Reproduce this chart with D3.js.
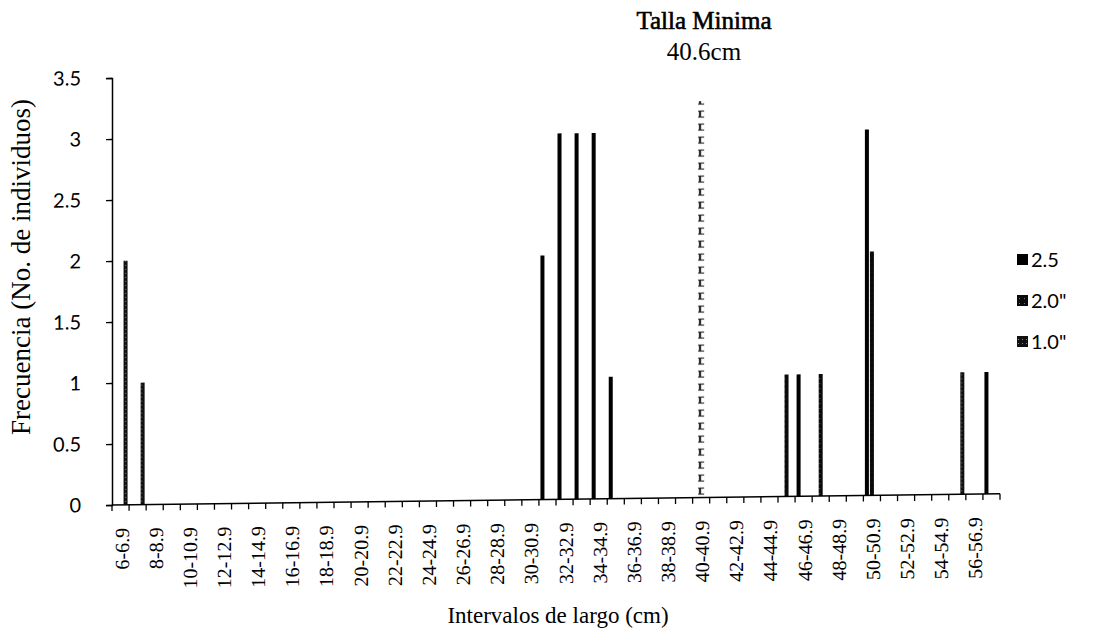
<!DOCTYPE html>
<html>
<head>
<meta charset="utf-8">
<script src="https://cdn.jsdelivr.net/npm/d3@7"></script>
<style>
  body { margin: 0; background: #fff; }
  .serif { font-family: "Liberation Serif", "Times New Roman", serif; }
  .sans { font-family: Lato, "Open Sans", sans-serif; }
</style>
</head>
<body>
<div id="chart"></div>
<script>
// length intervals (cm), one per bar group
const categories = ["6-6.9","7-7.9","8-8.9","9-9.9","10-10.9","11-11.9","12-12.9","13-13.9",
  "14-14.9","15-15.9","16-16.9","17-17.9","18-18.9","19-19.9","20-20.9","21-21.9","22-22.9",
  "23-23.9","24-24.9","25-25.9","26-26.9","27-27.9","28-28.9","29-29.9","30-30.9","31-31.9",
  "32-32.9","33-33.9","34-34.9","35-35.9","36-36.9","37-37.9","38-38.9","39-39.9","40-40.9",
  "41-41.9","42-42.9","43-43.9","44-44.9","45-45.9","46-46.9","47-47.9","48-48.9","49-49.9",
  "50-50.9","51-51.9","52-52.9","53-53.9","54-54.9","55-55.9","56-56.9","57-57.9"];
const tickLabels = ["6-6.9","8-8.9","10-10.9","12-12.9","14-14.9","16-16.9","18-18.9","20-20.9",
  "22-22.9","24-24.9","26-26.9","28-28.9","30-30.9","32-32.9","34-34.9","36-36.9","38-38.9",
  "40-40.9","42-42.9","44-44.9","46-46.9","48-48.9","50-50.9","52-52.9","54-54.9","56-56.9"];

const seriesNames = ["2.5", "2.0\"", "1.0\""];
// frequencies per interval, 6-6.9 ... 57-57.9
const serie25 = [0,0,0,0,0,0,0,0,0,0, 0,0,0,0,0,0,0,0,0,0, 0,0,0,0,0,2,3,3,3,1, 0,0,0,0,0,0,0,0,0,0, 1,0,0,0,3,0,0,0,0,0, 0,1];
const serie20 = [0,0,0,0,0,0,0,0,0,0, 0,0,0,0,0,0,0,0,0,0, 0,0,0,0,0,0,0,0,0,0, 0,0,0,0,0,0,0,0,0,1, 0,1,0,0,2,0,0,0,0,0, 0,0];
const serie10 = [2,1,0,0,0,0,0,0,0,0, 0,0,0,0,0,0,0,0,0,0, 0,0,0,0,0,0,0,0,0,0, 0,0,0,0,0,0,0,0,0,0, 0,0,0,0,0,0,0,0,0,1, 0,0];

// minimum legal size marker
const minCategory = "40-40.9";
const minValue = 3.25;

const yTicks = [0, 0.5, 1, 1.5, 2, 2.5, 3, 3.5];

const width = 1103, height = 636;
const marginLeft = 112, plotW = 888, plotTop = 78, plotBottom = 505;

const svg = d3.select("#chart").append("svg")
  .attr("width", width).attr("height", height)
  .attr("class", "serif");

const defs = svg.append("defs");
let p = defs.append("pattern").attr("id", "pat20").attr("patternUnits", "userSpaceOnUse")
  .attr("width", 5).attr("height", 5);
p.append("rect").attr("width", 5).attr("height", 5).attr("fill", "#0a0a0a");
p.append("rect").attr("x", 2).attr("y", 2).attr("width", 1).attr("height", 1).attr("fill", "#777");
p = defs.append("pattern").attr("id", "pat10").attr("patternUnits", "userSpaceOnUse")
  .attr("width", 4).attr("height", 4);
p.append("rect").attr("width", 4).attr("height", 4).attr("fill", "#111");
p.append("rect").attr("x", 1).attr("y", 1).attr("width", 1).attr("height", 1).attr("fill", "#888");
p = defs.append("pattern").attr("id", "patMin").attr("patternUnits", "userSpaceOnUse")
  .attr("width", 6).attr("height", 13);
p.append("rect").attr("x", 0.5).attr("y", 1.5).attr("width", 5).attr("height", 6)
  .attr("fill", "#fff").attr("stroke", "#222").attr("stroke-width", 1.1);

const fills = { "2.5": "#000", "2.0\"": "url(#pat20)", "1.0\"": "url(#pat10)" };

const x = d3.scaleBand().domain(categories).range([0, plotW]).padding(0);
const xs = d3.scaleBand().domain(seriesNames).range([0, x.bandwidth()])
  .paddingInner(0.2).paddingOuter(0.3);
const y = d3.scaleLinear().domain([0, 3.5]).range([plotBottom, plotTop]);

// the scanned page is slightly sheared, the baseline rises to the right
const g = svg.append("g").attr("transform", `translate(${marginLeft},0) skewY(-0.72)`);

const rows = [];
categories.forEach((c, i) => {
  rows.push({ cat: c, serie: "2.5", v: serie25[i] });
  rows.push({ cat: c, serie: "2.0\"", v: serie20[i] });
  rows.push({ cat: c, serie: "1.0\"", v: serie10[i] });
});

g.selectAll("rect.bar")
  .data(rows.filter(d => d.v > 0))
  .enter().append("rect")
  .attr("class", "bar")
  .attr("x", d => x(d.cat) + xs(d.serie))
  .attr("width", xs.bandwidth())
  .attr("y", d => y(d.v))
  .attr("height", d => y(0) - y(d.v))
  .attr("fill", d => fills[d.serie]);

g.append("rect")
  .attr("x", x(minCategory) + x.bandwidth() / 2 - 3)
  .attr("width", 6)
  .attr("y", y(minValue))
  .attr("height", y(0) - y(minValue))
  .attr("fill", "url(#patMin)");

// y axis
const yAxis = g.append("g")
  .call(d3.axisLeft(y).tickValues(yTicks).tickSize(6).tickPadding(25).tickFormat(d => d));
yAxis.select(".domain").attr("stroke", "#000").attr("stroke-width", 1.5);
yAxis.selectAll(".tick line").attr("stroke", "#000").attr("stroke-width", 1.3);
yAxis.selectAll("text")
  .attr("class", "sans")
  .attr("font-family", null)
  .style("font-size", "20px").attr("fill", "#000");

// x axis: line, boundary ticks, labels every second interval
const xAxis = g.append("g").attr("transform", `translate(0,${y(0)})`);
xAxis.append("line").attr("x1", 0).attr("x2", plotW)
  .attr("stroke", "#000").attr("stroke-width", 1.5);
xAxis.selectAll("line.tk")
  .data(categories.concat(["end"]))
  .enter().append("line")
  .attr("class", "tk")
  .attr("x1", d => d === "end" ? plotW : x(d))
  .attr("x2", d => d === "end" ? plotW : x(d))
  .attr("y1", 0).attr("y2", 6)
  .attr("stroke", "#000").attr("stroke-width", 1.3);
xAxis.selectAll("text")
  .data(tickLabels)
  .enter().append("text")
  .attr("transform", d => `translate(${x(d) + x.bandwidth() / 2 + 1},23) rotate(-90)`)
  .attr("dy", "0.35em")
  .attr("text-anchor", "end")
  .style("font-size", "20px")
  .text(d => d);

// titles
svg.append("text")
  .attr("transform", "translate(30,267) rotate(-90)")
  .attr("text-anchor", "middle")
  .style("font-size", "27px")
  .text("Frecuencia (No. de individuos)");

svg.append("text")
  .attr("x", 558).attr("y", 623)
  .attr("text-anchor", "middle")
  .style("font-size", "23px")
  .text("Intervalos de largo (cm)");

svg.append("text")
  .attr("class", "serif")
  .attr("x", 704).attr("y", 29)
  .attr("text-anchor", "middle")
  .style("font-size", "25px")
  .attr("stroke", "#000").attr("stroke-width", 0.6)
  .text("Talla Minima");
svg.append("text")
  .attr("class", "serif")
  .attr("x", 704).attr("y", 60)
  .attr("text-anchor", "middle")
  .style("font-size", "25px")
  .text("40.6cm");

// legend
const legend = svg.append("g").attr("transform", "translate(1017,260)");
const li = legend.selectAll("g").data(seriesNames).enter().append("g")
  .attr("transform", (d, i) => `translate(0,${i * 41})`);
li.append("rect").attr("x", 0).attr("y", -6).attr("width", 11).attr("height", 11)
  .attr("fill", d => fills[d]);
li.append("text").attr("x", 14).attr("y", 0).attr("dy", "0.35em")
  .attr("class", "sans")
  .style("font-size", "20px")
  .text(d => d);
</script>
</body>
</html>
